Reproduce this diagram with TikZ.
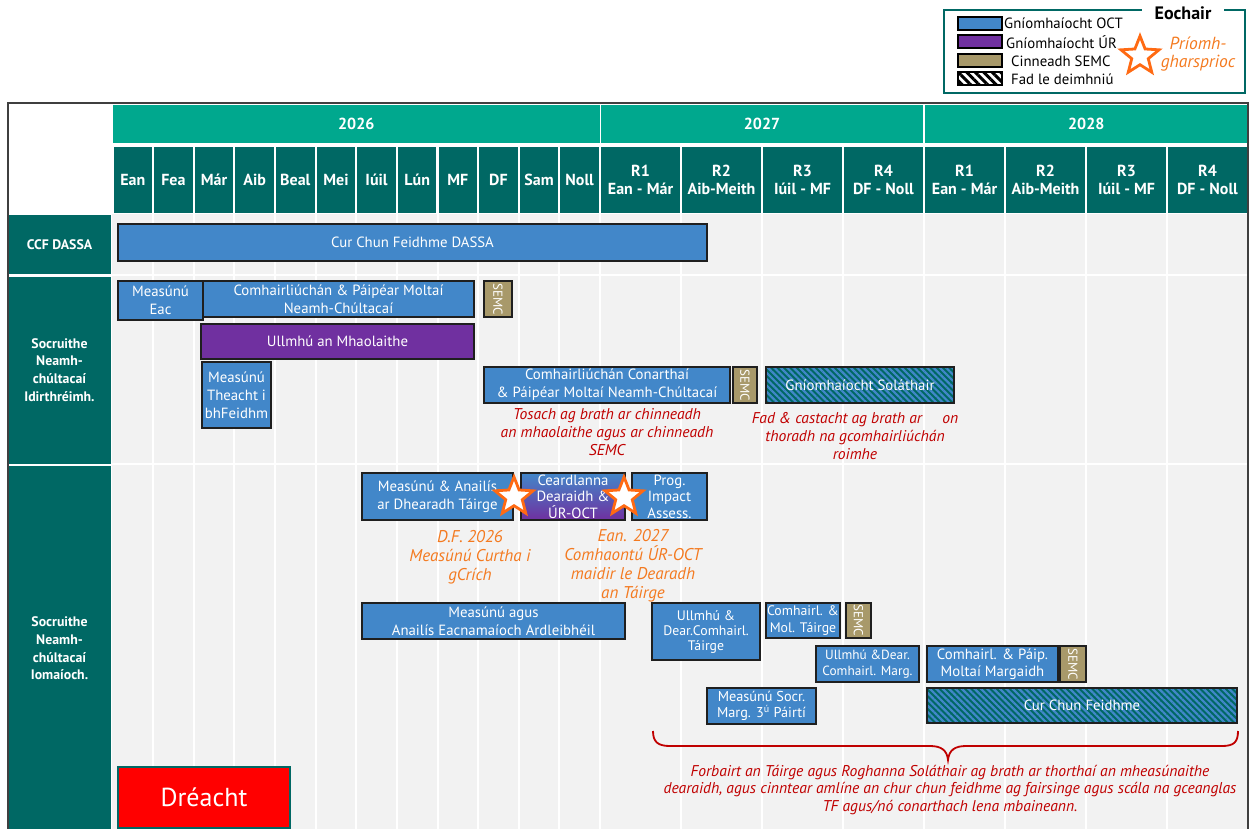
\documentclass[tikz,border=0pt]{standalone}
\usepackage{fontspec}
\setmainfont{PT Sans}
\usetikzlibrary{shapes.geometric,patterns.meta}
\definecolor{ocblue}{HTML}{4287C9}
\definecolor{urpurple}{HTML}{7030A0}
\definecolor{semctan}{HTML}{A8996A}
\definecolor{hdrdark}{HTML}{006864}
\definecolor{yeargreen}{HTML}{00A88E}
\definecolor{gridgray}{HTML}{F2F2F2}
\definecolor{noteRed}{HTML}{C00000}
\definecolor{starorange}{HTML}{FF6A13}
\definecolor{noteorange}{HTML}{F47A20}
\definecolor{framegray}{HTML}{3F3F3F}
\definecolor{dreachtred}{HTML}{FF0000}
\newcommand\fsz[2]{\fontsize{#1}{#2}\selectfont}
% box from (x1,y1) to (x2,y2): \tb[opts]{x1}{y1}{x2}{y2}{name}{text};
\newcommand\tb[6][]{\node[tbar,#1,minimum width={(#4)-(#2)},minimum height={(#5)-(#3)}] (#6) at ({((#2)+(#4))/2},{((#3)+(#5))/2})}
\tikzset{
  tbar/.style={draw=black!88, line width=1.3pt, fill=ocblue, text=white, inner sep=0pt, align=center, font=\fsz{14.8}{18}},
  semcbox/.style={fill=semctan},
  semctext/.style={rotate=-90, text=white, font=\fsz{13}{14}, inner sep=0pt},
  hatchbar/.style={fill=none, preaction={fill=hdrdark}, pattern={Lines[angle=-45,distance=4.5pt,line width=2.2pt]}, pattern color=ocblue},
  monthcell/.style={fill=hdrdark, text=white, inner sep=0pt, align=center, font=\bfseries\fsz{16}{18}},
  yearcell/.style={fill=yeargreen, text=white, inner sep=0pt, font=\bfseries\fsz{16}{18}},
  leftcell/.style={fill=hdrdark, text=white, inner sep=0pt, align=center, font=\bfseries\fsz{13.8}{17.7}},
  keystar/.style={star, star points=5, star point ratio=2.3, minimum size=40pt, inner sep=0pt, draw=starorange, line width=2.8pt, fill=white},
  rednote/.style={text=noteRed, font=\itshape\fsz{15.6}{17.7}, align=center, inner sep=0pt},
  orangenote/.style={text=noteorange, font=\itshape\fsz{17}{19}, align=center, inner sep=0pt},
  swatch/.style={draw=black, line width=1.3pt, inner sep=0pt},
  keytext/.style={anchor=west, font=\fsz{14.8}{16}, inner sep=0pt}
}
\begin{document}
\begin{tikzpicture}[x=1pt,y=-1pt]
\useasboundingbox (0,0) rectangle (1250,828);
% grid background
\fill[gridgray] (112,214) rectangle (1248,830);
\foreach \k in {1,...,11} \draw[white, line width=2pt] ({112.5+40.625*\k},214) -- ({112.5+40.625*\k},830);
\foreach \k in {0,...,7} \draw[white, line width=2pt] ({600+81*\k},214) -- ({600+81*\k},830);
\draw[white, line width=2pt] (8,274.5) -- (1248,274.5);
\draw[white, line width=2pt] (8,463.5) -- (1248,463.5);
% years
\node[yearcell, minimum width=486.5pt, minimum height=38pt] (y26) at (356.25,124) {2026};
\node[yearcell, minimum width=322pt, minimum height=38pt] (y27) at (762,124) {2027};
\node[yearcell, minimum width=322.5pt, minimum height=38pt] (y28) at (1086.25,124) {2028};
% months
\foreach \m [count=\i from 0] in {Ean,Fea,Már,Aib,Beal,Mei,Iúil,Lún,MF,DF,Sam,Noll}
  \node[monthcell, minimum width=38.6pt, minimum height=66pt] (m\i) at ({112.5+40.625*(\i+0.5)},180) {\m};
\foreach \q/\t [count=\j from 0] in {R1/Ean - Már,R2/Aib-Meith,R3/Iúil - MF,R4/DF - Noll,R1/Ean - Már,R2/Aib-Meith,R3/Iúil - MF,R4/DF - Noll}
  \node[monthcell, minimum width=79pt, minimum height=66pt] (q\j) at ({600+81*(\j+0.5)},180) {\q\\\t};
% left column
\node[leftcell, minimum width=103pt, minimum height=58.5pt] (l1) at (59.5,244.25) {CCF DASSA};
\node[leftcell, minimum width=103pt, minimum height=187pt] (l2) at (59.5,370) {Socruithe\\Neamh-\\chúltacaí\\Idirthréimh.};
\node[leftcell, minimum width=103pt, minimum height=365.5pt] (l3) at (59.5,648.5) {Socruithe\\Neamh-\\chúltacaí\\Iomaíoch.};
% frame
\draw[framegray, line width=1.5pt] (8,830) -- (8,103) -- (1248,103) -- (1248,830);
% bars: section 1
\tb{118}{224}{707}{261}{dassa}{Cur Chun Feidhme DASSA};
% section 2
\tb{203}{281}{474}{317}{comh1}{Comhairliúchán \& Páipéar Moltaí\\Neamh-Chúltacaí};
\tb{118}{281}{203}{320}{eac}{Measúnú\\Eac};
\tb[semcbox]{484}{281}{512}{317}{semc1}{};
\node[semctext] at (semc1) {SEMC};
\tb[fill=urpurple]{201}{324}{474}{359}{maol}{Ullmhú an Mhaolaithe};
\tb{202}{362}{271}{428}{theacht}{Measúnú\\Theacht i\\bhFeidhm};
\tb{484}{367}{730}{403}{comh2}{Comhairliúchán Conarthaí\\\& Páipéar Moltaí Neamh-Chúltacaí};
\tb[semcbox]{733}{367}{757}{403}{semc2}{};
\node[semctext] at (semc2) {SEMC};
\tb[hatchbar]{766}{367}{954}{403}{solathair}{Gníomhaíocht Soláthair};
\node[rednote] (tosach) at (607,432) {Tosach ag brath ar chinneadh\\an mhaolaithe agus ar chinneadh\\SEMC};
\node[rednote] (fad) at (855,436) {Fad \& castacht ag brath ar\hspace{1.3em}on\\thoradh na gcomhairliúchán\\roimhe};
% section 3
\tb{362}{473}{513}{520}{anailis}{Measúnú \& Anailís\\ar Dhearadh Táirge};
\tb[top color=ocblue, bottom color=urpurple, font=\fsz{14.8}{16.5}]{521}{473}{625}{520}{ceard}{Ceardlanna\\Dearaidh \&\\ÚR-OCT};
\tb[font=\fsz{14.8}{16.5}]{632}{473}{707}{520}{prog}{Prog.\\Impact\\Assess.};
\node[keystar] (star1) at (514,497) {};
\node[keystar] (star2) at (624,497) {};
\node[orangenote] (dfnote) at (470,557) {D.F. 2026\\Measúnú Curtha i\\gCrích};
\node[orangenote] (eannote) at (633,566) {Ean. 2027\\Comhaontú ÚR-OCT\\maidir le Dearadh\\an Táirge};
\tb{362}{603}{625}{639}{eacn}{Measúnú agus\\Anailís Eacnamaíoch Ardleibhéil};
\tb[font=\fsz{13.8}{15}]{652}{603}{760}{660}{ullT}{Ullmhú \&\\Dear.Comhairl.\\Táirge};
\tb[font=\fsz{13.8}{16.5}]{766}{603}{840}{638}{comT}{Comhairl. \&\\Mol. Táirge};
\tb[semcbox]{846}{603}{871}{638}{semc3}{};
\node[semctext] at (semc3) {SEMC};
\tb[font=\fsz{13.3}{16.5}]{816}{646}{919}{682}{ullM}{Ullmhú \&Dear.\\Comhairl. Marg.};
\tb[font=\fsz{14.8}{17}]{927}{646}{1058}{682}{paip}{Comhairl. \& Páip.\\Moltaí Margaidh};
\tb[semcbox]{1060}{646}{1086}{682}{semc4}{};
\node[semctext] at (semc4) {SEMC};
\tb[font=\fsz{14.3}{16.5}]{707}{688}{816}{724}{socr}{Measúnú Socr.\\Marg. 3\textsuperscript{ú} Páirtí};
\tb[hatchbar]{927}{688}{1237}{723}{ccf}{Cur Chun Feidhme};
% brace
\draw[noteRed, line width=1.8pt] (653,731) .. controls (653,742) and (658,746) .. (670,746) -- (930,746) .. controls (941,746) and (947,750) .. (948,760) .. controls (949,750) and (955,746) .. (966,746) -- (1222,746) .. controls (1234,746) and (1238,742) .. (1238,731);
\node[rednote] (forbairt) at (950,790) {Forbairt an Táirge agus Roghanna Soláthair ag brath ar thorthaí an mheasúnaithe\\dearaidh, agus cinntear amlíne an chur chun feidhme ag fairsinge agus scála na gceanglas\\TF agus/nó conarthach lena mbaineann.};
% draft
\tb[draw=hdrdark, line width=1.2pt, fill=dreachtred, font=\fsz{26}{30}]{118}{767}{290}{828}{dreacht}{Dréacht};
% legend
\draw[hdrdark, line width=1.5pt] (944,10) rectangle (1245,93);
\node[fill=white, font=\bfseries\fsz{18}{20}, inner xsep=13pt, inner ysep=2pt] (keytitle) at (1183,13) {Eochair};
\node[swatch, fill=ocblue, minimum width=44pt, minimum height=13pt] (k1) at (980,23.5) {};
\node[swatch, fill=urpurple, minimum width=44pt, minimum height=13pt] (k2) at (980,41.5) {};
\node[swatch, fill=semctan, minimum width=44pt, minimum height=13pt] (k3) at (980,60.5) {};
\node[swatch, preaction={fill=white}, pattern={Lines[angle=-45,distance=6pt,line width=3pt]}, pattern color=black, minimum width=44pt, minimum height=13pt] (k4) at (980,78.5) {};
\node[keytext] (t1) at (1004,23) {Gníomhaíocht OCT};
\node[keytext] (t2) at (1006,42) {Gníomhaíocht ÚR};
\node[keytext] (t3) at (1011,61) {Cinneadh SEMC};
\node[keytext] (t4) at (1011,79) {Fad le deimhniú};
\node[keystar] (kstar) at (1140,56) {};
\node[orangenote, font=\itshape\fsz{17.5}{18.5}] (kstartext) at (1198,54) {Príomh-\\gharsprioc};
\end{tikzpicture}
\end{document}
